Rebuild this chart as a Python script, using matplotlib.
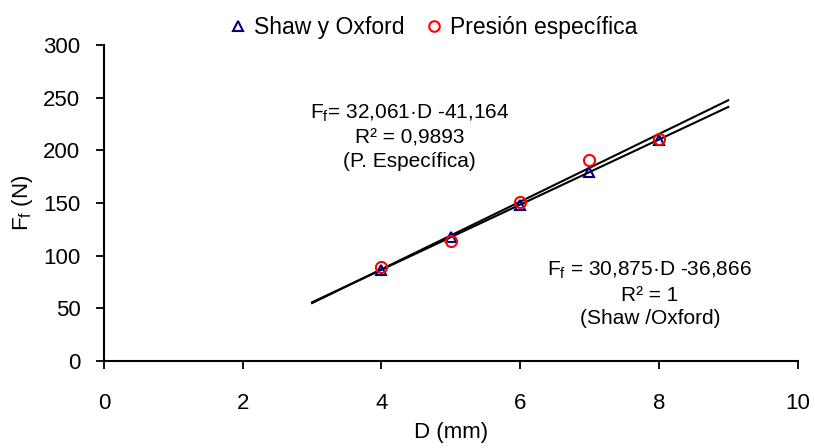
import matplotlib.pyplot as plt

plt.rcParams["font.family"] = ["Liberation Sans", "DejaVu Sans"]
plt.rcParams["mathtext.fontset"] = "custom"
plt.rcParams["mathtext.rm"] = "Liberation Sans"
plt.rcParams["mathtext.it"] = "Liberation Sans"

# data
diam = [4, 5, 6, 7, 8]
shaw_oxford = [86.6, 117.5, 148.4, 179.3, 210.1]
presion_esp = [89, 114, 151, 191, 211]

# trendline coefficients (as printed on the chart)
fit_shaw = (30.875, -36.866)
fit_pesp = (32.061, -41.164)
fit_range = [3, 9]

fig = plt.figure(figsize=(8.15, 4.48), dpi=100)
ax = fig.add_axes([0.1276, 0.194, 0.851, 0.706])

for m, b in (fit_pesp, fit_shaw):
    ax.plot(fit_range, [m * x + b for x in fit_range], color="black", lw=1.5, zorder=2)

ax.plot(diam, shaw_oxford, linestyle="none", marker="^", ms=7.5, mfc="none",
        mec="#000080", mew=1.5, label="Shaw y Oxford", zorder=3)
ax.plot(diam, presion_esp, linestyle="none", marker="o", ms=8, mfc="none",
        mec="red", mew=1.5, label="Presión específica", zorder=3)

ax.set_xlim(0, 10)
ax.set_ylim(0, 300)
ax.set_xticks(range(0, 11, 2))
ax.set_yticks(range(0, 301, 50))
ax.tick_params(labelsize=16, length=6, width=1.3, direction="out")
ax.tick_params(axis="x", pad=17)
ax.tick_params(axis="y", pad=11)
for s in ("top", "right"):
    ax.spines[s].set_visible(False)
for s in ("left", "bottom"):
    ax.spines[s].set_linewidth(1.5)

ax.set_xlabel("D (mm)", fontsize=16, labelpad=6)
ax.set_ylabel("F$_\\mathrm{f}$ (N)", fontsize=16, labelpad=6)

ax.text(4.41, 212.7, "F$_\\mathrm{f}$= 32,061·D -41,164\nR² = 0,9893\n(P. Específica)",
        ha="center", va="center", fontsize=15, linespacing=1.3)
ax.text(7.87, 63.6, "F$_\\mathrm{f}$ = 30,875·D -36,866\nR² = 1\n(Shaw /Oxford)",
        ha="center", va="center", fontsize=15, linespacing=1.3)

fig.legend(loc="upper center", bbox_to_anchor=(0.533, 1.01), ncol=2, frameon=False,
           fontsize=16.5, handlelength=0.6, handletextpad=0.4, columnspacing=1.0,
           markerscale=0.95)

fig.savefig("out.png", dpi=100)
